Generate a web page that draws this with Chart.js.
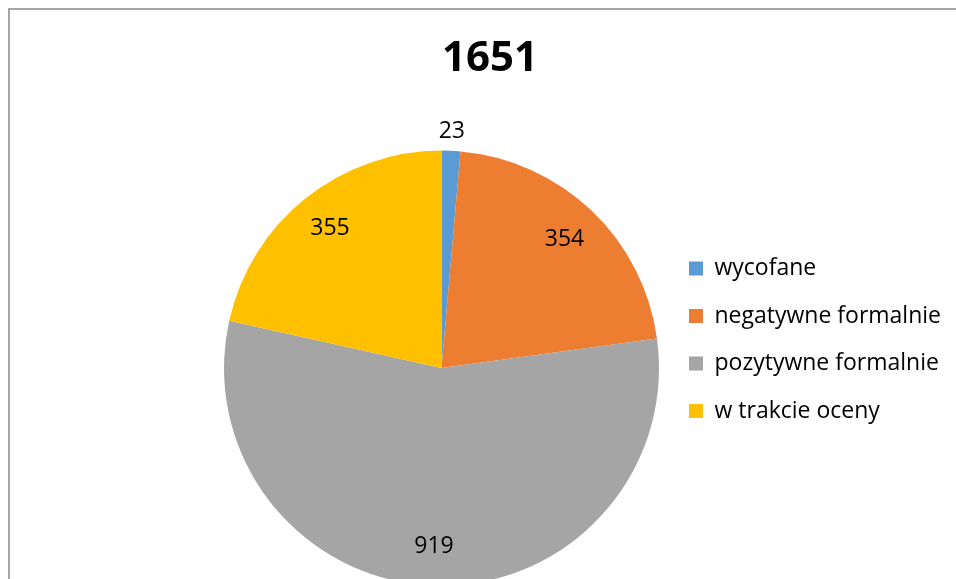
<!DOCTYPE html>
<html>
<head>
<meta charset="utf-8">
<script src="https://cdn.jsdelivr.net/npm/chart.js@4.4.1/dist/chart.umd.min.js"></script>
<style>
  html, body { margin: 0; padding: 0; background: #fff; overflow: hidden; width: 956px; height: 579px; }
  .frame { position: absolute; left: 8px; top: 8px; width: 960px; height: 640px; border: 2px solid #a6a6a6; background: #fff; }
  canvas { display: block; }
</style>
</head>
<body>
<div class="frame"><canvas id="pie" width="960" height="640"></canvas></div>
<script>
const title = '1651';
const labels = ['wycofane', 'negatywne formalnie', 'pozytywne formalnie', 'w trakcie oceny'];
const values = [23, 354, 919, 355];
const colors = ['#5b9bd5', '#ed7d31', '#a5a5a5', '#ffc000'];

const font = 'Open Sans';

// value labels inside the slices (small slices get theirs outside)
const sliceLabels = {
    id: 'sliceLabels',
    afterDatasetsDraw(chart) {
        const ctx = chart.ctx;
        const meta = chart.getDatasetMeta(0);
        const total = values.reduce((a, b) => a + b, 0);
        ctx.save();
        ctx.font = '23px "' + font + '"';
        ctx.fillStyle = '#000';
        ctx.textAlign = 'center';
        ctx.textBaseline = 'middle';
        meta.data.forEach((arc, i) => {
            const p = arc.getProps(['x', 'y', 'startAngle', 'endAngle', 'outerRadius'], true);
            const mid = (p.startAngle + p.endAngle) / 2;
            const k = values[i] / total < 0.03 ? 1.09 : 0.82;
            ctx.fillText(String(values[i]), p.x + Math.cos(mid) * p.outerRadius * k, p.y + Math.sin(mid) * p.outerRadius * k);
        });
        ctx.restore();
    }
};

// move the legend column next to the pie
const legendPlace = {
    id: 'legendPlace',
    afterLayout(chart) {
        const lg = chart.legend;
        const pad = lg.options.labels.padding;
        const h = 400;
        lg.left = 679 - pad;
        lg.right = lg.left + 280;
        lg.top = 247 - pad;
        lg.bottom = lg.top + h;
        lg.width = 280;
        lg.height = h;
    }
};

new Chart(document.getElementById('pie'), {
    type: 'pie',
    data: {
        labels: labels,
        datasets: [{
            data: values,
            backgroundColor: colors,
            borderWidth: 0
        }]
    },
    options: {
        responsive: false,
        animation: false,
        radius: 217.5,
        layout: { padding: { left: 0, right: 0, top: 0, bottom: 18.2 } },
        plugins: {
            title: {
                display: true,
                text: title,
                color: '#000',
                font: { family: font, size: 42, weight: 'bold' },
                padding: { top: 24, bottom: 20 }
            },
            legend: {
                position: 'right',
                align: 'start',
                maxWidth: 97,
                labels: {
                    color: '#000',
                    font: { family: font, size: 23 },
                    boxWidth: 14,
                    boxHeight: 14,
                    padding: 24.5
                }
            },
            tooltip: { enabled: false }
        }
    },
    plugins: [sliceLabels, legendPlace]
});
</script>
</body>
</html>
